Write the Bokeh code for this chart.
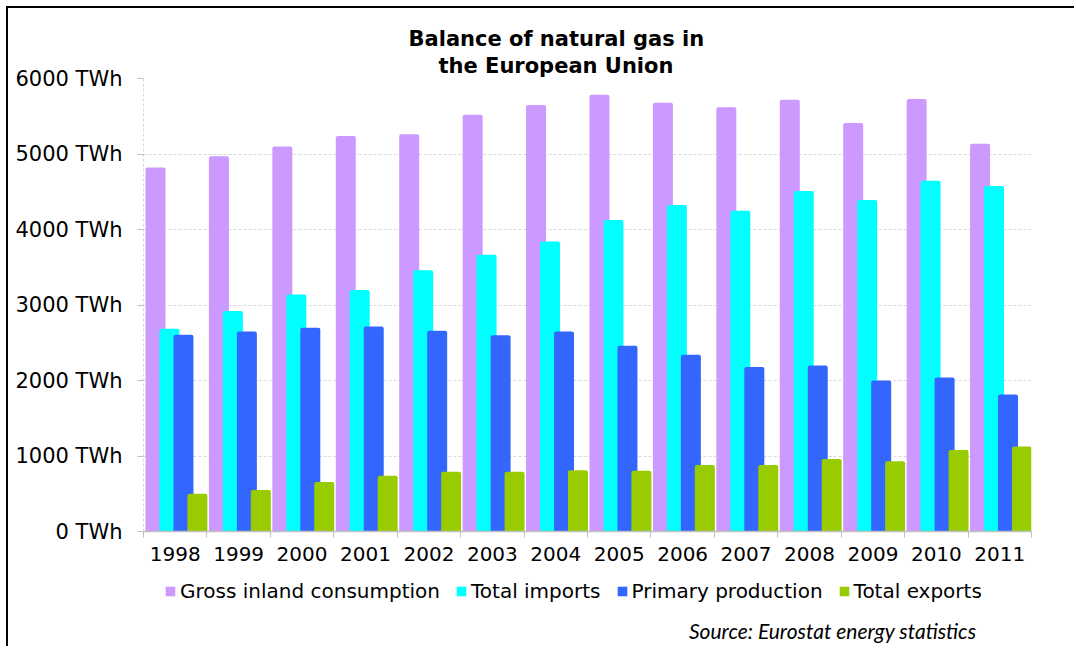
from bokeh.plotting import figure
from bokeh.layouts import column
from bokeh.models import Range1d, FixedTicker, Legend, LegendItem, Title, Label
from bokeh.embed import file_html
from bokeh.resources import INLINE

years = ["1998", "1999", "2000", "2001", "2002", "2003", "2004",
         "2005", "2006", "2007", "2008", "2009", "2010", "2011"]
gross_inland = [4820, 4970, 5100, 5240, 5260, 5520, 5650,
                5785, 5680, 5620, 5720, 5410, 5730, 5135]
total_imports = [2685, 2920, 3140, 3200, 3460, 3665, 3840,
                 4125, 4325, 4250, 4510, 4390, 4645, 4575]
primary_production = [2605, 2650, 2700, 2715, 2660, 2600, 2650,
                      2460, 2340, 2180, 2200, 2000, 2040, 1815]
total_exports = [500, 550, 655, 740, 790, 790, 810,
                 805, 880, 880, 960, 930, 1080, 1125]
y_ticks = [0, 1000, 2000, 3000, 4000, 5000, 6000]

series_names = ["Gross inland consumption", "Total imports",
                "Primary production", "Total exports"]
series_values = [gross_inland, total_imports, primary_production, total_exports]
colors = ["#cc99ff", "#00ffff", "#3366ff", "#99cc00"]
offsets = [0.189, 0.409, 0.630, 0.850]
bar_width = 0.315

p = figure(width=1066, height=566, output_backend="svg", toolbar_location=None,
           x_range=Range1d(0, len(years)), y_range=Range1d(0, 6000),
           min_border_left=135, min_border_right=43, min_border_top=70,
           min_border_bottom=43,
           title="Balance of natural gas in")
p.outline_line_color = None
p.background_fill_color = "white"
p.border_fill_color = "white"

for vals, col, off in zip(series_values, colors, offsets):
    xs = [i + off for i in range(len(years))]
    p.vbar(x=xs, top=vals, width=bar_width, bottom=0, fill_color=col,
           line_color=None, border_radius=(2, 2, 0, 0))

# titles
p.title.align = "left"
p.title.offset = 265
p.title.text_font = "DejaVu Sans"
p.title.text_font_size = "21px"
p.title.text_font_style = "bold"
p.title.text_color = "black"
p.title.standoff = 0
t2 = Title(text="the European Union", align="left", offset=295,
           text_font="DejaVu Sans", text_font_size="21px",
           text_font_style="bold", text_color="black", standoff=2)
p.add_layout(t2, "above")

# grid
p.xgrid.grid_line_color = None
p.ygrid.grid_line_color = "#d9d9d9"
p.ygrid.grid_line_dash = "3 2"
p.ygrid.ticker = FixedTicker(ticks=y_ticks)

# y axis
p.yaxis.ticker = FixedTicker(ticks=y_ticks)
p.yaxis.major_label_overrides = {t: f"{t} TWh" for t in y_ticks}
p.yaxis.major_label_text_font = "DejaVu Sans"
p.yaxis.major_label_text_font_size = "21px"
p.yaxis.major_label_text_color = "black"
p.yaxis.major_label_standoff = 15
p.yaxis.axis_line_color = "#d9d9d9"
p.yaxis.axis_line_dash = "3 2"
p.yaxis.major_tick_line_color = "#bfbfbf"
p.yaxis.major_tick_out = 6
p.yaxis.major_tick_in = 0
p.yaxis.minor_tick_line_color = None

# x axis
centers = [i + 0.5 for i in range(len(years))]
p.xaxis.ticker = FixedTicker(ticks=centers, minor_ticks=list(range(len(years) + 1)))
p.xaxis.major_label_overrides = {c: y for c, y in zip(centers, years)}
p.xaxis.major_label_text_font = "DejaVu Sans"
p.xaxis.major_label_text_font_size = "20px"
p.xaxis.major_label_text_color = "black"
p.xaxis.major_label_standoff = 9
p.xaxis.major_tick_line_color = None
p.xaxis.major_tick_out = 6
p.xaxis.major_tick_in = 0
p.xaxis.minor_tick_line_color = "#bfbfbf"
p.xaxis.minor_tick_out = 6
p.xaxis.minor_tick_in = 0
p.xaxis.axis_line_color = "#bfbfbf"
p.xaxis.axis_line_width = 1.5

# footer strip: legend + source note (its frame is aligned with the chart frame)
f = figure(width=1066, height=72, output_backend="svg", toolbar_location=None,
           x_range=Range1d(0, 1), y_range=Range1d(0, 1),
           x_axis_type=None, y_axis_type=None,
           min_border_left=0, min_border_right=0, min_border_top=0,
           min_border_bottom=0)
f.outline_line_color = None
f.xgrid.grid_line_color = None
f.ygrid.grid_line_color = None
f.border_fill_color = "white"

key_renderers = []
for vals, col, off in zip(series_values, colors, offsets):
    xs = [i + off for i in range(len(years))]
    r = f.vbar(x=xs, top=vals, width=bar_width, bottom=0, fill_color=col,
               line_color=None, border_radius=2, visible=False)
    key_renderers.append(r)

legend = Legend(items=[LegendItem(label=n, renderers=[r]) for n, r in zip(series_names, key_renderers)],
                orientation="horizontal", location=(21, 43),
                glyph_width=12, glyph_height=12, label_standoff=4, spacing=15,
                padding=6, margin=0, border_line_color=None,
                background_fill_alpha=0, inactive_fill_alpha=0,
                label_text_font="DejaVu Sans", label_text_font_size="20px",
                label_text_color="black")
f.add_layout(legend, "center")

source = Label(x=833, y=16, x_units="screen", y_units="screen",
               text="Source: Eurostat energy statistics", text_align="right",
               text_baseline="middle", text_font="Lato", text_font_size="21px",
               text_font_style="italic", text_color="black")
f.add_layout(source)

page = column(p, f, spacing=0)
page.styles = {"border-left": "2px solid black", "border-top": "2px solid black",
               "margin-left": "6px", "margin-top": "6px"}

open("out.html", "w").write(file_html(page, INLINE))
